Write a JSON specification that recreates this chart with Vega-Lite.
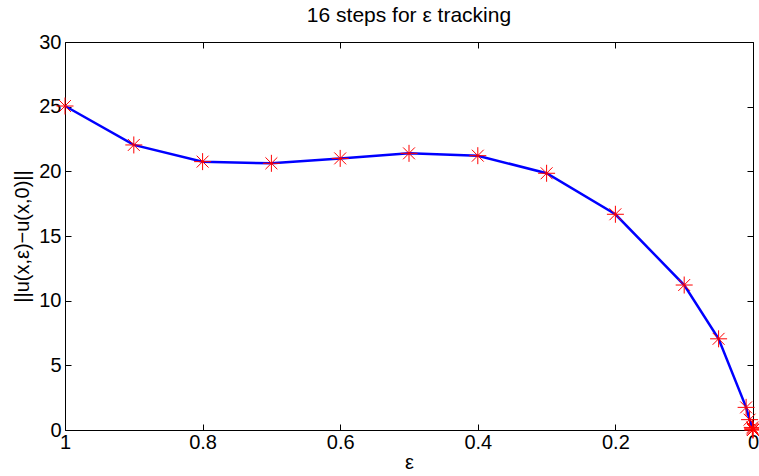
{
  "$schema": "https://vega.github.io/schema/vega-lite/v6.json",
  "autosize": {"type": "none"},
  "width": 688,
  "height": 388,
  "padding": {"left": 65, "top": 42, "right": 6, "bottom": 46},
  "background": "white",
  "config": {
    "font": "Liberation Sans",
    "view": {"stroke": null},
    "axis": {"grid": false, "domainColor": "black", "tickColor": "black", "labelColor": "black", "titleColor": "black", "labelFont": "Liberation Sans", "titleFont": "Liberation Sans", "labelFontSize": 20, "titleFontSize": 20, "titleFontWeight": "normal", "domainWidth": 1, "tickWidth": 1}
  },
  "title": {"text": "16 steps for ε tracking", "fontSize": 21, "fontWeight": "normal", "font": "Liberation Sans", "color": "black", "offset": 6, "anchor": "middle"},
  "data": {"values": [
    {"eps": 1, "err": 25.05},
    {"eps": 0.9, "err": 22.04},
    {"eps": 0.8, "err": 20.75},
    {"eps": 0.7, "err": 20.62},
    {"eps": 0.6, "err": 21.0},
    {"eps": 0.5, "err": 21.39},
    {"eps": 0.4, "err": 21.21},
    {"eps": 0.3, "err": 19.85},
    {"eps": 0.2, "err": 16.68},
    {"eps": 0.1, "err": 11.21},
    {"eps": 0.05, "err": 7.05},
    {"eps": 0.01, "err": 1.75},
    {"eps": 0.005, "err": 0.8},
    {"eps": 0.001, "err": 0.2},
    {"eps": 0.0005, "err": 0.1},
    {"eps": 0.0001, "err": 0.02},
    {"eps": 0, "err": 0}
  ]},
  "layer": [
    {
      "mark": {"type": "line", "color": "#0000ff", "strokeWidth": 2.5, "clip": false},
      "encoding": {
        "x": {"field": "eps", "type": "quantitative", "scale": {"domain": [0, 1], "reverse": true, "nice": false, "zero": false}, "axis": {"title": "ε", "values": [0, 0.2, 0.4, 0.6, 0.8, 1], "format": "~g", "tickSize": -6, "labelPadding": 8, "titlePadding": 0, "labelFlush": false}},
        "y": {"field": "err", "type": "quantitative", "scale": {"domain": [0, 30], "nice": false}, "axis": {"title": "||u(x,ε)−u(x,0)||", "values": [0, 5, 10, 15, 20, 25, 30], "tickSize": -6, "labelPadding": 10, "titlePadding": 6}}
      }
    },
    {
      "mark": {"type": "point", "shape": "M-1,0L1,0M0,-1L0,1M-0.7,-0.7L0.7,0.7M-0.7,0.7L0.7,-0.7", "size": 289, "color": "#ff0000", "strokeWidth": 1, "filled": false, "opacity": 1, "clip": false},
      "encoding": {
        "x": {"field": "eps", "type": "quantitative", "axis": {"orient": "top", "title": null, "labels": false, "values": [0, 0.2, 0.4, 0.6, 0.8, 1], "tickSize": -6}},
        "y": {"field": "err", "type": "quantitative", "axis": {"orient": "right", "title": null, "labels": false, "values": [0, 5, 10, 15, 20, 25, 30], "tickSize": -6}}
      }
    }
  ],
  "resolve": {"axis": {"x": "independent", "y": "independent"}}
}
